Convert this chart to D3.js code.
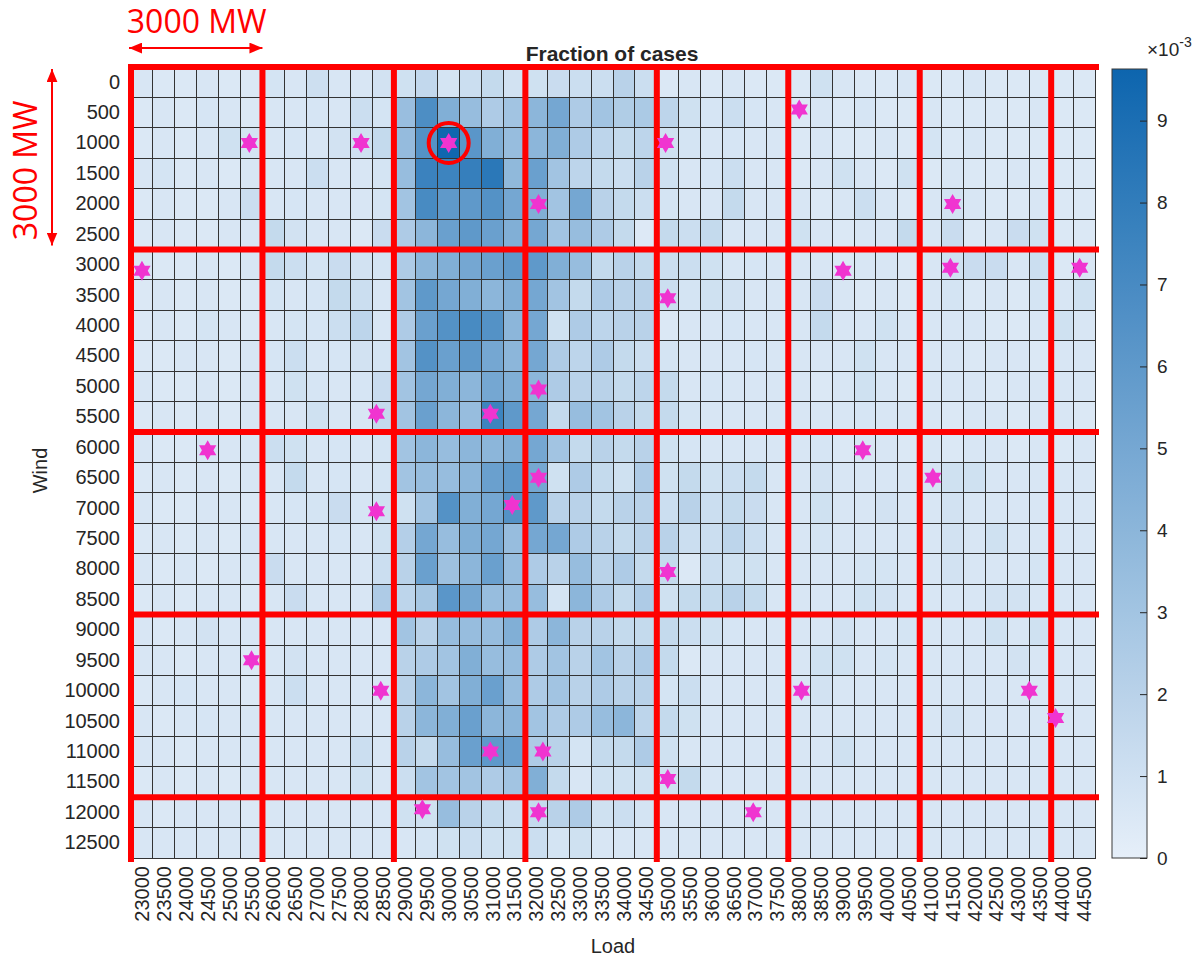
<!DOCTYPE html>
<html>
<head>
<meta charset="utf-8">
<style>
  body { margin: 0; background: #fff; }
  svg { display: block; font-family: 'Liberation Sans', Arial, sans-serif; }
</style>
</head>
<body>
<div class="canvas"></div>
<script src="https://cdnjs.cloudflare.com/ajax/libs/d3/7.8.5/d3.min.js"></script>
<script>
// load categories (MW), columns of the map
const loads = [23000, 23500, 24000, 24500, 25000, 25500, 26000, 26500, 27000, 27500, 28000,
  28500, 29000, 29500, 30000, 30500, 31000, 31500, 32000, 32500, 33000, 33500, 34000, 34500,
  35000, 35500, 36000, 36500, 37000, 37500, 38000, 38500, 39000, 39500, 40000, 40500, 41000,
  41500, 42000, 42500, 43000, 43500, 44000, 44500]

// wind categories (MW), rows of the map
const winds = [0, 500, 1000, 1500, 2000, 2500, 3000, 3500, 4000, 4500, 5000, 5500, 6000, 6500,
  7000, 7500, 8000, 8500, 9000, 9500, 10000, 10500, 11000, 11500, 12000, 12500]

// fraction of cases (x 10^-3), one row per wind value, one column per load value
const fraction = [
  [.6,.5,.5,.6,.5,.5, .8,.6,1.1,.6,.6,.9, 1.0,1.6,.8,1.2,1.5,.9, 1.0,1.3,1.2,1.2,2.0,1.2, .5,.6,.5,.6,.5,.5, .5,1.0,.6,.5,.5,.6, .5,.5,.6,.5,.5,.5, .5,.5],
  [.5,.6,.5,.7,.6,.5, .6,.6,.7,.6,1.2,.8, 3.4,6.8,4.5,3.5,2.5,3.0, 4.0,5.0,2.5,3.0,2.4,2.6, 1.8,1.0,.7,1.2,.7,.6, .5,.6,.5,.7,.5,.5, .6,.5,.5,.5,.5,.6, .5,.5],
  [.5,.6,.5,.6,1.0,.8, .6,.7,.6,.9,1.0,1.5, 3.6,6.5,9.5,6.2,4.5,3.5, 4.0,4.5,2.5,1.8,1.5,1.8, 1.0,.8,.6,.7,.6,.6, .5,.6,.5,.5,.6,.5, .8,.5,.6,.5,.5,.5, .5,.5],
  [.6,.8,.5,.6,.5,.6, .6,.6,1.2,.6,.6,.8, 3.5,7.6,7.5,7.8,8.3,3.8, 5.5,3.0,1.8,1.5,1.2,2.0, 1.0,.6,.7,1.2,.6,.6, .5,.6,1.0,.6,.5,1.0, .5,.6,.5,.5,.6,.5, .5,.5],
  [.5,.6,.5,.5,.6,1.2, .6,.7,.6,.6,.6,.8, 3.0,7.0,6.0,6.0,6.5,5.0, 4.5,3.0,5.0,2.0,1.5,1.2, .8,.6,.6,1.5,.6,.6, .6,.5,.6,1.2,.6,.5, .6,.9,.6,.5,.5,.6, .5,.5],
  [.5,.6,.5,.5,.6,.6, 1.5,.9,.6,.6,.5,1.3, 2.5,4.0,5.5,6.0,5.5,4.5, 5.0,3.0,3.5,2.5,1.5,.4, 1.5,1.2,1.5,.6,.6,.6, 1.0,.6,.5,.6,.6,1.5, .6,1.3,.5,.6,1.3,1.0, .5,.5],
  [.6,.5,.5,.6,.5,.6, 1.5,1.2,.8,1.3,.9,.8, 2.5,4.0,4.5,5.0,5.5,6.0, 6.0,4.5,3.5,1.5,2.0,1.5, 1.2,1.2,1.0,.6,.7,.6, .6,.6,.5,.6,.6,.5, .6,1.0,1.3,1.3,.6,1.2, .5,.6],
  [.5,.6,.5,.6,.5,.5, .8,.6,.7,1.5,1.2,.6, 3.0,6.0,5.0,4.5,4.0,4.5, 5.0,3.0,1.5,2.5,2.0,2.0, 1.2,.8,1.0,.9,.6,.6, .6,1.3,.6,.5,.6,.5, .6,.8,.5,.6,.5,.8, .6,1.0],
  [.5,.6,.5,.8,.6,.5, .6,.8,.7,1.2,1.8,.6, 2.5,5.5,6.5,7.0,6.5,4.0, 5.0,1.0,2.5,1.8,2.0,2.0, .5,.6,.6,.7,.6,.6, .6,1.5,.6,.6,1.0,.6, .6,.6,.6,.5,.5,.6, 1.0,.6],
  [.5,.5,.6,.6,.5,.6, .7,1.2,.6,.7,.9,.8, 3.0,6.5,5.5,6.0,5.0,4.0, 5.0,2.5,1.8,2.5,1.5,1.2, .8,.6,.6,.6,.7,.6, .6,.6,.6,1.0,.6,.6, .6,.6,.5,.6,.6,.5, .6,.6],
  [.6,.5,.5,.6,.5,.6, .6,1.0,.7,.6,.7,1.3, 3.0,5.0,4.5,4.0,5.0,4.5, 4.0,2.5,2.0,2.0,1.5,1.8, 1.5,.6,.7,.6,.6,.6, .6,.5,.6,1.0,.6,.5, .6,.6,.6,.5,.6,.6, .6,.6],
  [.5,.6,.5,.6,.5,.6, .6,.6,1.0,.6,.6,1.5, 3.0,5.5,4.0,3.5,7.5,6.0, 5.0,1.5,3.5,3.0,2.0,1.5, 1.5,.8,.6,.6,.6,.6, .6,.6,.6,.7,.6,.6, .6,.5,.6,.6,.5,.6, .6,.5],
  [.6,.5,.5,.7,.6,.6, 1.2,1.0,.6,.7,.6,.8, 3.0,4.0,3.5,4.0,4.0,4.5, 5.0,3.0,1.5,2.0,1.5,2.0, 1.0,.7,.6,.6,.6,.6, .6,.7,.5,.6,.6,.5, .6,.5,.6,.6,.5,.6, .5,.6],
  [.5,.6,.5,.6,.5,.6, .6,1.5,.6,.7,.6,.8, 3.0,3.5,3.5,4.0,5.5,6.0, 5.0,1.0,2.5,1.5,1.0,2.5, 1.0,1.5,1.0,1.2,1.5,.6, .6,.9,.6,.6,.6,.6, .8,1.0,1.0,.6,.6,.6, .6,.6],
  [.6,.5,.5,.6,.6,.5, .6,.7,.8,1.3,.7,1.0, 1.0,3.0,6.5,4.5,5.0,6.5, 6.0,2.0,2.0,1.5,2.0,2.0, 1.2,2.0,1.2,1.5,1.3,.6, .6,1.0,.6,.6,.9,.6, .6,.9,.6,.6,.6,.6, .6,.6],
  [.5,.6,.5,.6,.5,.7, .6,.6,.6,.7,.6,1.0, 2.2,5.0,3.5,4.5,5.0,3.5, 5.0,5.0,2.5,2.0,1.5,2.0, 2.0,1.2,1.2,1.8,1.2,.6, .6,.8,.6,.6,.6,.6, .6,.9,.6,1.0,.6,.6, .6,.6],
  [.6,.5,.6,.5,.6,.6, 1.3,.6,.6,.6,.6,1.2, 2.0,5.5,3.2,4.0,5.5,3.5, 2.5,2.0,3.5,2.0,2.5,1.5, 1.5,.5,1.2,1.0,1.0,.6, .6,.6,.6,.8,.8,.6, .6,.9,.6,.6,.6,.8, .6,.6],
  [.5,.6,.5,.6,.6,.5, .6,1.3,.6,.6,.6,2.5, 1.8,2.8,6.2,5.0,3.5,3.5, 3.5,.8,4.0,2.5,1.5,2.5, 1.0,1.5,1.5,2.0,1.5,.6, .6,.6,.6,1.0,.9,.6, .6,.6,.6,.9,.9,.6, .6,.6],
  [.6,.5,.6,.9,.6,.6, .6,.6,.6,.6,.6,.6, 3.0,2.0,3.5,3.5,3.5,4.5, 2.5,4.0,2.0,2.0,1.5,1.5, 1.5,1.2,1.0,.7,.6,.6, .6,.6,.9,.6,.6,.8, .6,.6,.6,1.0,.6,1.0, .6,.6],
  [.6,.6,.5,.6,.6,.5, .6,.9,.6,.6,.6,.6, 2.0,2.5,3.0,4.5,3.5,3.5, 2.5,3.0,2.0,3.0,2.0,2.5, 1.5,.5,.6,.6,.6,.6, .6,1.0,1.0,.6,.8,.6, .6,.6,.6,.6,.9,.6, .6,.6],
  [.5,.6,.7,.6,.6,.5, .6,1.2,.6,.6,.6,.6, 2.0,4.0,3.0,4.5,5.5,3.5, 2.5,3.0,2.0,2.5,2.0,2.0, .8,1.2,.6,.6,.6,.6, .6,.9,.6,.6,.6,.6, .6,.6,.6,.6,.6,.6, .6,.6],
  [.6,.5,.6,.7,.6,.6, .6,.6,.6,.6,.6,.6, 2.0,4.0,4.5,5.5,4.0,4.0, 3.0,2.5,2.5,3.5,4.0,1.8, 1.5,1.0,.6,.6,.6,.6, .6,.6,.6,.6,.6,.6, .6,.9,.6,.6,.6,.6, .6,.6],
  [.6,.6,.5,.6,.6,.6, .6,.6,.6,.6,1.2,.6, 2.0,1.5,3.5,5.5,6.0,5.5, 2.5,2.0,.8,1.5,1.5,2.5, 1.0,.6,.6,.6,.6,.6, .6,.6,1.0,.6,.6,.6, .6,.6,.6,.6,.6,.6, .6,.6],
  [.5,.6,.5,.6,.5,.6, .6,.6,.6,.6,1.0,.6, 1.2,3.0,3.0,3.0,2.5,3.0, 4.5,1.5,.6,1.0,1.0,1.0, 1.0,1.5,.6,.6,.6,.6, .6,.6,.6,.6,.6,.6, .6,.6,.6,.6,.6,.6, .6,.6],
  [.6,.5,.6,.6,.6,.5, .6,.6,.6,.6,.6,.6, 1.0,1.0,3.5,2.0,1.5,1.2, 1.5,2.0,2.5,1.0,1.2,.8, .6,.6,.6,.6,.6,.6, .6,.6,.6,.6,.6,.6, .6,.6,.6,.6,.6,.6, .6,.6],
  [.6,.6,.6,.6,.6,.6, .6,.6,.6,.6,.6,.6, .6,.8,1.0,1.2,1.0,1.0, 1.2,.8,1.0,.6,.6,.6, .6,.6,.6,.6,.6,.6, .6,.6,.6,.6,.6,.6, .6,.6,.6,.6,.6,.6, .6,.6]
]

// sampled points (magenta stars)
const starLoad = [25450, 28000, 30000, 34950, 38000, 32050, 41500, 23000, 39000, 41450, 44400,
  35000, 32050, 28350, 30950, 24500, 39450, 32050, 41050, 28350, 31450, 35000, 25500, 28450,
  38050, 43250, 43850, 30950, 32150, 35000, 29400, 32050, 36950]
const starWind = [1000, 1000, 1000, 1000, 450, 2000, 2000, 3100, 3100, 3050, 3050,
  3550, 5050, 5450, 5450, 6050, 6050, 6500, 6500, 7050, 6950, 8050, 9500, 10000,
  10000, 10000, 10450, 11000, 11000, 11450, 11950, 12000, 12000]

// highlighted sample
const circledLoad = 30000
const circledWind = 1000

const colorTicks = [0, 1, 2, 3, 4, 5, 6, 7, 8, 9]
const colorMax = 9.63
const blockMW = 3000

const width = 1196
const height = 956
const plot = { left: 131, top: 67, right: 1095, bottom: 858 }
const red = '#ff0000'

const svg = d3.select('.canvas').append('svg')
  .attr('width', width)
  .attr('height', height)

const x = d3.scaleBand()
  .domain(loads)
  .range([plot.left, plot.right])

const y = d3.scaleBand()
  .domain(winds)
  .range([plot.top, plot.bottom])

// continuous versions through the cell centres, for the stars
const xs = d3.scaleLinear()
  .domain([loads[0], loads[loads.length - 1]])
  .range([x(loads[0]) + x.bandwidth() / 2, x(loads[loads.length - 1]) + x.bandwidth() / 2])
const ys = d3.scaleLinear()
  .domain([winds[0], winds[winds.length - 1]])
  .range([y(winds[0]) + y.bandwidth() / 2, y(winds[winds.length - 1]) + y.bandwidth() / 2])

const color = d3.scaleLinear()
  .domain([0, colorMax])
  .range(['#e6eff9', '#0d65ae'])
  .clamp(true)

// heat map cells
const cells = fraction.flatMap((row, i) => row.map((v, j) => ({ load: loads[j], wind: winds[i], v })))

svg.append('g')
  .attr('shape-rendering', 'crispEdges')
  .selectAll('rect')
  .data(cells)
  .enter().append('rect')
  .attr('x', d => x(d.load))
  .attr('y', d => y(d.wind))
  .attr('width', x.bandwidth())
  .attr('height', y.bandwidth())
  .attr('fill', d => color(d.v))
  .attr('stroke', '#333')
  .attr('stroke-width', 1)

// axes
const yAxis = d3.axisLeft(y).tickSize(0).tickPadding(11)
svg.append('g')
  .attr('transform', `translate(${plot.left},0)`)
  .call(yAxis)
  .attr('font-size', 20)
  .attr('font-family', "'Liberation Sans', Arial, sans-serif")
  .attr('color', '#262626')
  .call(g => g.select('.domain').remove())

const xAxis = d3.axisBottom(x).tickSize(0)
const xAxisGroup = svg.append('g')
  .attr('transform', `translate(0,${plot.bottom})`)
  .call(xAxis)
  .attr('font-size', 20)
  .attr('font-family', "'Liberation Sans', Arial, sans-serif")
  .attr('color', '#262626')
  .call(g => g.select('.domain').remove())

xAxisGroup.selectAll('text')
  .attr('transform', 'rotate(-90)')
  .attr('text-anchor', 'end')
  .attr('x', -8)
  .attr('y', 0)
  .attr('dy', '0.35em')

svg.append('text')
  .attr('x', (plot.left + plot.right) / 2)
  .attr('y', 953)
  .attr('text-anchor', 'middle')
  .attr('font-size', 20)
  .attr('fill', '#262626')
  .text('Load')

svg.append('text')
  .attr('transform', `translate(47,${(plot.top + plot.bottom) / 2 + 8}) rotate(-90)`)
  .attr('text-anchor', 'middle')
  .attr('font-size', 20)
  .attr('fill', '#262626')
  .text('Wind')

svg.append('text')
  .attr('x', 612)
  .attr('y', 61)
  .attr('text-anchor', 'middle')
  .attr('font-size', 21)
  .attr('font-weight', 'bold')
  .attr('fill', '#262626')
  .text('Fraction of cases')

// colour bar
const cb = { left: 1112, right: 1147, top: 69, bottom: plot.bottom }
const cScale = d3.scaleLinear().domain([0, colorMax]).range([cb.bottom, cb.top])

const grad = svg.append('defs').append('linearGradient')
  .attr('id', 'cbar')
  .attr('x1', 0).attr('y1', 1).attr('x2', 0).attr('y2', 0)
grad.selectAll('stop')
  .data(d3.range(0, 1.0001, 0.1))
  .enter().append('stop')
  .attr('offset', d => d)
  .attr('stop-color', d => color(d * colorMax))

svg.append('rect')
  .attr('x', cb.left)
  .attr('y', cb.top)
  .attr('width', cb.right - cb.left)
  .attr('height', cb.bottom - cb.top)
  .attr('fill', 'url(#cbar)')
  .attr('stroke', '#3a3a3a')
  .attr('stroke-width', 1)

svg.append('g')
  .attr('transform', `translate(${cb.right},0)`)
  .call(d3.axisRight(cScale).tickValues(colorTicks).tickSizeInner(-7).tickSizeOuter(0).tickPadding(10))
  .attr('font-size', 19)
  .attr('font-family', "'Liberation Sans', Arial, sans-serif")
  .attr('color', '#262626')
  .call(g => g.select('.domain').remove())

const expo = svg.append('text')
  .attr('x', 1147)
  .attr('y', 56)
  .attr('font-size', 19)
  .attr('fill', '#262626')
expo.append('tspan').text('\u00d710')
expo.append('tspan').attr('dy', -9).attr('font-size', 14).text('-3')

// red 3000 MW blocks
const redG = svg.append('g').attr('stroke', red).attr('stroke-width', 6)

redG.selectAll('.v')
  .data(loads.filter(d => (d - loads[0]) % blockMW === 0))
  .enter().append('line')
  .attr('x1', d => x(d)).attr('x2', d => x(d))
  .attr('y1', plot.top - 3).attr('y2', plot.bottom + 4)

redG.selectAll('.h')
  .data(winds.filter(d => d % blockMW === 0))
  .enter().append('line')
  .attr('x1', plot.left - 3).attr('x2', plot.right + 4)
  .attr('y1', d => y(d)).attr('y2', d => y(d))

// stars
const hexagram = r => {
  const pts = d3.range(12).map(i => {
    const a = i * Math.PI / 6 - Math.PI / 2
    const rr = i % 2 ? r / Math.sqrt(3) : r
    return [rr * Math.cos(a), rr * Math.sin(a)]
  })
  return 'M' + pts.join('L') + 'Z'
}

svg.append('g').selectAll('path')
  .data(starLoad.map((d, i) => ({ load: d, wind: starWind[i] })))
  .enter().append('path')
  .attr('d', hexagram(10))
  .attr('transform', d => `translate(${xs(d.load)},${ys(d.wind)})`)
  .attr('fill', '#f034d0')

svg.append('circle')
  .attr('cx', xs(circledLoad))
  .attr('cy', ys(circledWind))
  .attr('r', 20)
  .attr('fill', 'none')
  .attr('stroke', red)
  .attr('stroke-width', 4)

// 3000 MW annotations
svg.append('defs').append('marker')
  .attr('id', 'arrow')
  .attr('viewBox', '0 0 12 10')
  .attr('refX', 12).attr('refY', 5)
  .attr('markerUnits', 'userSpaceOnUse')
  .attr('markerWidth', 13).attr('markerHeight', 11)
  .attr('orient', 'auto-start-reverse')
  .append('path')
  .attr('d', 'M0,0L12,5L0,10Z')
  .attr('fill', red)

const blockEndLoad = loads[0] + blockMW
const blockEndWind = winds[0] + blockMW

svg.append('line')
  .attr('x1', x(loads[0]) - 2).attr('x2', x(blockEndLoad))
  .attr('y1', 48).attr('y2', 48)
  .attr('stroke', red).attr('stroke-width', 2)
  .attr('marker-start', 'url(#arrow)').attr('marker-end', 'url(#arrow)')

svg.append('line')
  .attr('x1', 52).attr('x2', 52)
  .attr('y1', y(winds[0]) + 2).attr('y2', y(blockEndWind) - 4)
  .attr('stroke', red).attr('stroke-width', 2)
  .attr('marker-start', 'url(#arrow)').attr('marker-end', 'url(#arrow)')

svg.append('text')
  .attr('x', (x(loads[0]) + x(blockEndLoad)) / 2)
  .attr('y', 33)
  .attr('text-anchor', 'middle')
  .attr('font-family', "'Open Sans', sans-serif")
  .attr('font-size', 32)
  .attr('fill', red)
  .text(`${blockMW} MW`)

svg.append('text')
  .attr('transform', `translate(37,${(y(winds[0]) + y(blockEndWind)) / 2 + 12}) rotate(-90)`)
  .attr('text-anchor', 'middle')
  .attr('font-family', "'Open Sans', sans-serif")
  .attr('font-size', 32)
  .attr('fill', red)
  .text(`${blockMW} MW`)
</script>
</body>
</html>
